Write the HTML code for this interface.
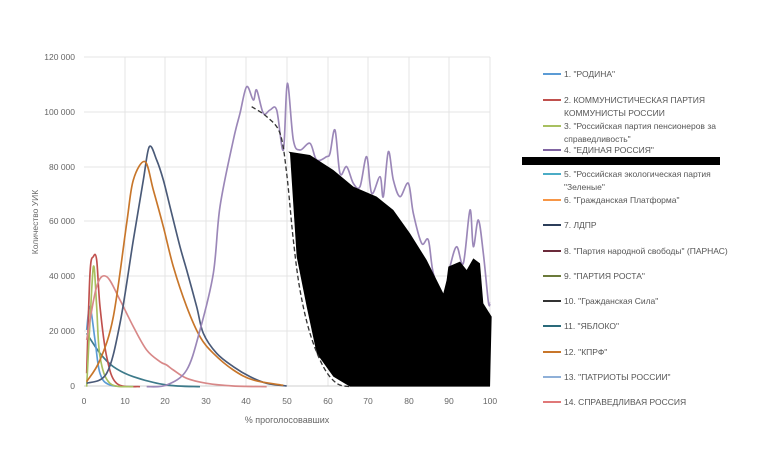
<!DOCTYPE html>
<html><head><meta charset="utf-8"><style>
body{margin:0;background:#fff;width:757px;height:461px;overflow:hidden}
svg{font-family:"Liberation Sans",sans-serif}
</style></head><body>
<svg id="s" width="757" height="461" viewBox="0 0 757 461" xmlns="http://www.w3.org/2000/svg">
<g stroke="#e4e4e4" stroke-width="1">
<line x1="84" y1="57" x2="490" y2="57"/><line x1="84" y1="112" x2="490" y2="112"/><line x1="84" y1="167" x2="490" y2="167"/><line x1="84" y1="221" x2="490" y2="221"/><line x1="84" y1="276" x2="490" y2="276"/><line x1="84" y1="331" x2="490" y2="331"/>
<line x1="125" y1="57" x2="125" y2="386"/><line x1="165" y1="57" x2="165" y2="386"/><line x1="206" y1="57" x2="206" y2="386"/><line x1="246" y1="57" x2="246" y2="386"/><line x1="287" y1="57" x2="287" y2="386"/><line x1="328" y1="57" x2="328" y2="386"/><line x1="368" y1="57" x2="368" y2="386"/><line x1="409" y1="57" x2="409" y2="386"/><line x1="449" y1="57" x2="449" y2="386"/><line x1="490" y1="57" x2="490" y2="386"/>
</g>
<line x1="84" y1="386" x2="490" y2="386" stroke="#cfcfcf"/>
<g font-size="8.5" fill="#666" text-anchor="end">
<text x="75" y="60">120 000</text><text x="75" y="115">100 000</text><text x="75" y="170">80 000</text><text x="75" y="224">60 000</text><text x="75" y="279">40 000</text><text x="75" y="334">20 000</text><text x="75" y="389">0</text>
</g>
<g font-size="8.5" fill="#666" text-anchor="middle">
<text x="84" y="404">0</text><text x="125" y="404">10</text><text x="165" y="404">20</text><text x="206" y="404">30</text><text x="246" y="404">40</text><text x="287" y="404">50</text><text x="328" y="404">60</text><text x="368" y="404">70</text><text x="409" y="404">80</text><text x="449" y="404">90</text><text x="490" y="404">100</text>
<text x="287" y="423" font-size="9">% проголосовавших</text>
</g>
<text transform="translate(38,222) rotate(-90)" font-size="8.5" fill="#666" text-anchor="middle">Количество УИК</text>
<g transform="translate(0,40) scale(0.33333)" fill="none" stroke-width="5" stroke-linejoin="round">
<polyline class="sm" stroke="#3d7a8a" points="260,880 300,940 340,980 400,1010 500,1035 600,1040"/>
<polyline class="sm" stroke="#5b9bd5" points="260,870 270,800 285,900 300,1000 330,1035 400,1040"/>
<polyline class="sm" stroke="#c0504d" points="260,1000 270,700 280,650 290,660 300,800 320,950 350,1030 420,1040"/>
<polyline class="sm" stroke="#a8c060" points="260,1040 275,750 282,680 290,800 300,950 330,1030 400,1040"/>
<polyline class="sm" stroke="#d88888" points="260,900 290,740 320,710 360,780 400,860 440,930 480,965 500,975 520,990 560,1015 620,1030 700,1038 800,1040"/>
<polyline class="sm" stroke="#4a5a78" points="260,1030 320,1000 360,850 400,600 430,420 448,320 470,360 490,420 510,500 540,620 560,690 590,800 610,880 650,940 700,980 750,1010 800,1030 860,1038"/>
<polyline class="sm" stroke="#c8762a" points="260,1025 300,960 340,830 380,550 400,420 435,365 460,450 490,560 520,680 560,800 600,890 640,940 700,990 760,1020 850,1036"/>
<polyline class="sm" stroke="#9b87b8" points="440,1040 500,1035 560,990 600,870 640,700 660,500 700,300 720,220 740,140 760,180 770,150 790,220 810,210 830,210 850,330 862,130 880,300 900,330 930,310 950,360 980,350 990,340 1005,270 1020,400 1040,380 1060,430 1080,440 1100,350 1115,460 1140,410 1150,470 1165,335 1180,420 1200,470 1225,430 1240,520 1265,610 1285,600 1300,700 1330,770 1350,680 1370,620 1390,670 1410,510 1420,620 1435,540 1450,640 1465,785 1470,790"/>
<polygon fill="#000" stroke="none" points="865,335 930,345 1000,390 1060,440 1130,470 1180,510 1230,580 1280,660 1330,760 1340,720 1345,680 1380,665 1400,690 1420,655 1440,670 1450,790 1475,830 1470,1040 1050,1040 1000,1010 950,940 920,800 890,650 870,340"/>
<polyline class="sm" stroke="#333" stroke-width="4" stroke-dasharray="14,8" points="755,200 800,230 840,280 860,400 880,600 900,750 930,880 970,980 1010,1030 1050,1040"/>
</g>
<g stroke-width="2">
<line x1="543" y1="74" x2="561" y2="74" stroke="#5b9bd5"/>
<line x1="543" y1="100" x2="561" y2="100" stroke="#c0504d"/>
<line x1="543" y1="126" x2="561" y2="126" stroke="#a8c060"/>
<line x1="543" y1="150" x2="561" y2="150" stroke="#8064a2"/>
<line x1="543" y1="174" x2="561" y2="174" stroke="#4bacc6"/>
<line x1="543" y1="200" x2="561" y2="200" stroke="#f79646"/>
<line x1="543" y1="225" x2="561" y2="225" stroke="#2c3e5a"/>
<line x1="543" y1="251" x2="561" y2="251" stroke="#6b2a3a"/>
<line x1="543" y1="276" x2="561" y2="276" stroke="#6b7a3a"/>
<line x1="543" y1="301" x2="561" y2="301" stroke="#333"/>
<line x1="543" y1="326" x2="561" y2="326" stroke="#2a6a7a"/>
<line x1="543" y1="352" x2="561" y2="352" stroke="#c8762a"/>
<line x1="543" y1="377" x2="561" y2="377" stroke="#8fb0d8"/>
<line x1="543" y1="402" x2="561" y2="402" stroke="#e07878"/>
</g>
<rect x="522" y="157" width="198" height="8" fill="#000"/>
<g font-size="8.5" fill="#555">
<text x="564" y="77">1. "РОДИНА"</text>
<text x="564" y="103">2. КОММУНИСТИЧЕСКАЯ ПАРТИЯ</text><text x="564" y="116">КОММУНИСТЫ РОССИИ</text>
<text x="564" y="129">3. "Российская партия пенсионеров за</text><text x="564" y="142">справедливость"</text>
<text x="564" y="153">4. "ЕДИНАЯ РОССИЯ"</text>
<text x="564" y="177">5. "Российская экологическая партия</text><text x="564" y="190">"Зеленые"</text>
<text x="564" y="203">6. "Гражданская Платформа"</text>
<text x="564" y="228">7. ЛДПР</text>
<text x="564" y="254">8. "Партия народной свободы" (ПАРНАС)</text>
<text x="564" y="279">9. "ПАРТИЯ РОСТА"</text>
<text x="564" y="304">10. "Гражданская Сила"</text>
<text x="564" y="329">11. "ЯБЛОКО"</text>
<text x="564" y="355">12. "КПРФ"</text>
<text x="564" y="380">13. "ПАТРИОТЫ РОССИИ"</text>
<text x="564" y="405">14. СПРАВЕДЛИВАЯ РОССИЯ</text>
</g>
</svg>
<script>
document.querySelectorAll('polyline.sm').forEach(function(pl){
  var p=pl.getAttribute('points').trim().split(/\s+/).map(function(s){return s.split(',').map(Number);});
  var d='M'+p[0][0]+','+p[0][1];
  for(var i=0;i<p.length-1;i++){
    var p0=p[i-1]||p[i],p1=p[i],p2=p[i+1],p3=p[i+2]||p2;
    var c1x=p1[0]+(p2[0]-p0[0])/6,c1y=p1[1]+(p2[1]-p0[1])/6;
    var c2x=p2[0]-(p3[0]-p1[0])/6,c2y=p2[1]-(p3[1]-p1[1])/6;
    d+=' C'+c1x+','+c1y+' '+c2x+','+c2y+' '+p2[0]+','+p2[1];
  }
  var path=document.createElementNS('http://www.w3.org/2000/svg','path');
  ['stroke','stroke-width','stroke-dasharray'].forEach(function(a){if(pl.getAttribute(a))path.setAttribute(a,pl.getAttribute(a));});
  path.setAttribute('d',d);path.setAttribute('fill','none');
  pl.parentNode.replaceChild(path,pl);
});
</script>
</body></html>
